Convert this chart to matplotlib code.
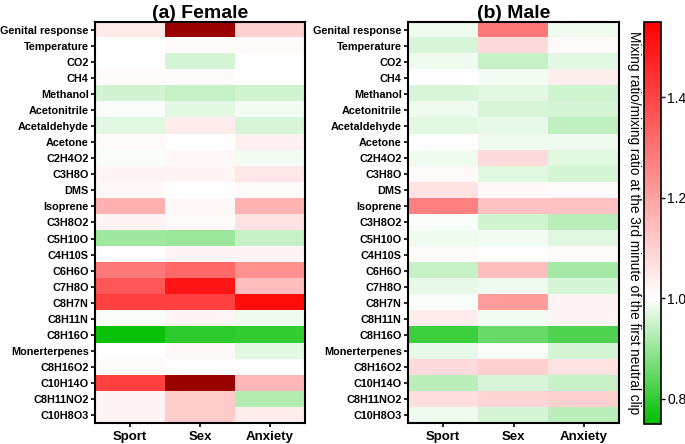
import numpy as np
import matplotlib
matplotlib.use("Agg")
import matplotlib.pyplot as plt
from matplotlib.colors import LinearSegmentedColormap, Normalize

plt.rcParams['font.family'] = ['Liberation Sans', 'DejaVu Sans']

compounds = ["Genital response", "Temperature", "CO2", "CH4", "Methanol", "Acetonitrile",
             "Acetaldehyde", "Acetone", "C2H4O2", "C3H8O", "DMS", "Isoprene", "C3H8O2",
             "C5H10O", "C4H10S", "C6H6O", "C7H8O", "C8H7N", "C8H11N", "C8H16O",
             "Monerterpenes", "C8H16O2", "C10H14O", "C8H11NO2", "C10H8O3"]
conditions = ["Sport", "Sex", "Anxiety"]

# columns: Sport, Sex, Anxiety
female = [
    [1.045, 1.70, 1.10],
    [1.00, 1.01, 1.01],
    [1.00, 0.96, 1.00],
    [1.01, 1.01, 1.00],
    [0.957, 0.945, 0.955],
    [0.995, 0.975, 0.99],
    [0.975, 1.04, 0.965],
    [1.01, 1.00, 1.03],
    [0.995, 1.015, 0.99],
    [1.02, 1.02, 1.05],
    [1.015, 1.00, 1.01],
    [1.17, 1.015, 1.16],
    [1.025, 1.01, 1.06],
    [0.907, 0.905, 0.945],
    [1.005, 1.02, 1.02],
    [1.29, 1.325, 1.24],
    [1.36, 1.50, 1.14],
    [1.41, 1.41, 1.52],
    [0.995, 1.02, 0.985],
    [0.76, 0.795, 0.80],
    [1.00, 1.015, 0.975],
    [1.01, 1.005, 1.00],
    [1.41, 1.70, 1.155],
    [1.025, 1.11, 0.928],
    [1.025, 1.11, 1.04],
]

male = [
    [0.985, 1.29, 0.985],
    [0.965, 1.08, 1.01],
    [0.985, 0.945, 0.975],
    [1.005, 0.99, 1.035],
    [0.965, 0.975, 0.955],
    [0.985, 0.965, 0.96],
    [0.975, 0.98, 0.94],
    [1.005, 0.985, 0.985],
    [0.985, 1.08, 0.97],
    [1.01, 0.97, 0.96],
    [1.06, 1.015, 1.01],
    [1.275, 1.13, 1.13],
    [0.995, 0.955, 0.935],
    [0.985, 0.99, 0.97],
    [1.01, 1.005, 1.01],
    [0.945, 1.14, 0.915],
    [0.98, 0.985, 0.96],
    [0.995, 1.21, 1.025],
    [1.04, 0.99, 1.02],
    [0.81, 0.855, 0.83],
    [0.98, 0.995, 0.96],
    [1.08, 1.10, 1.06],
    [0.935, 0.965, 0.95],
    [1.07, 1.09, 1.10],
    [0.985, 0.96, 0.935],
]

vmin, vmax = 0.75, 1.55
mid = (1.0 - vmin) / (vmax - vmin)
cmap = LinearSegmentedColormap.from_list(
    "gwr", [(0, (0.0, 0.75, 0.0)), (mid, (1, 1, 1)), (1, (1, 0, 0))])
cmap.set_over((0.6, 0.0, 0.0))
cmap.set_under((0.0, 0.75, 0.0))
norm = Normalize(vmin=vmin, vmax=vmax)

W, H = 685, 444
fig = plt.figure(figsize=(W / 100, H / 100), dpi=100)

ax_b = (H - 423) / H
ax_h = 401 / H
axA = fig.add_axes([95 / W, ax_b, 210 / W, ax_h])
axB = fig.add_axes([408 / W, ax_b, 211 / W, ax_h])
cax = fig.add_axes([644 / W, (H - 424) / H, 17 / W, 402 / H])

for ax, data, title in [(axA, female, "(a) Female"), (axB, male, "(b) Male")]:
    im = ax.imshow(np.array(data), aspect='auto', cmap=cmap, norm=norm,
                   interpolation='nearest')
    ax.set_yticks(range(len(compounds)))
    ax.set_yticklabels(compounds, fontsize=7.8, fontweight='bold')
    ax.set_xticks(range(len(conditions)))
    ax.set_xticklabels(conditions, fontsize=9.5, fontweight='bold')
    ax.tick_params(axis='y', length=3, width=1.2, pad=1.5)
    ax.tick_params(axis='x', length=3, width=1.2, pad=3)
    for s in ax.spines.values():
        s.set_linewidth(1.5)
    ax.set_title(title, fontsize=14, fontweight='bold', pad=3)

cb = fig.colorbar(im, cax=cax)
cb.set_ticks([0.8, 1.0, 1.2, 1.4])
cb.ax.tick_params(labelsize=10, length=3, width=1, pad=1.5)
cb.outline.set_linewidth(1.2)
cb.ax.yaxis.set_label_position('left')
cb.set_label("Mixing ratio/mixing ratio at the 3rd minute of the first neutral clip",
             rotation=270, fontsize=9.8, labelpad=12)

fig.savefig("out.png", dpi=100)
